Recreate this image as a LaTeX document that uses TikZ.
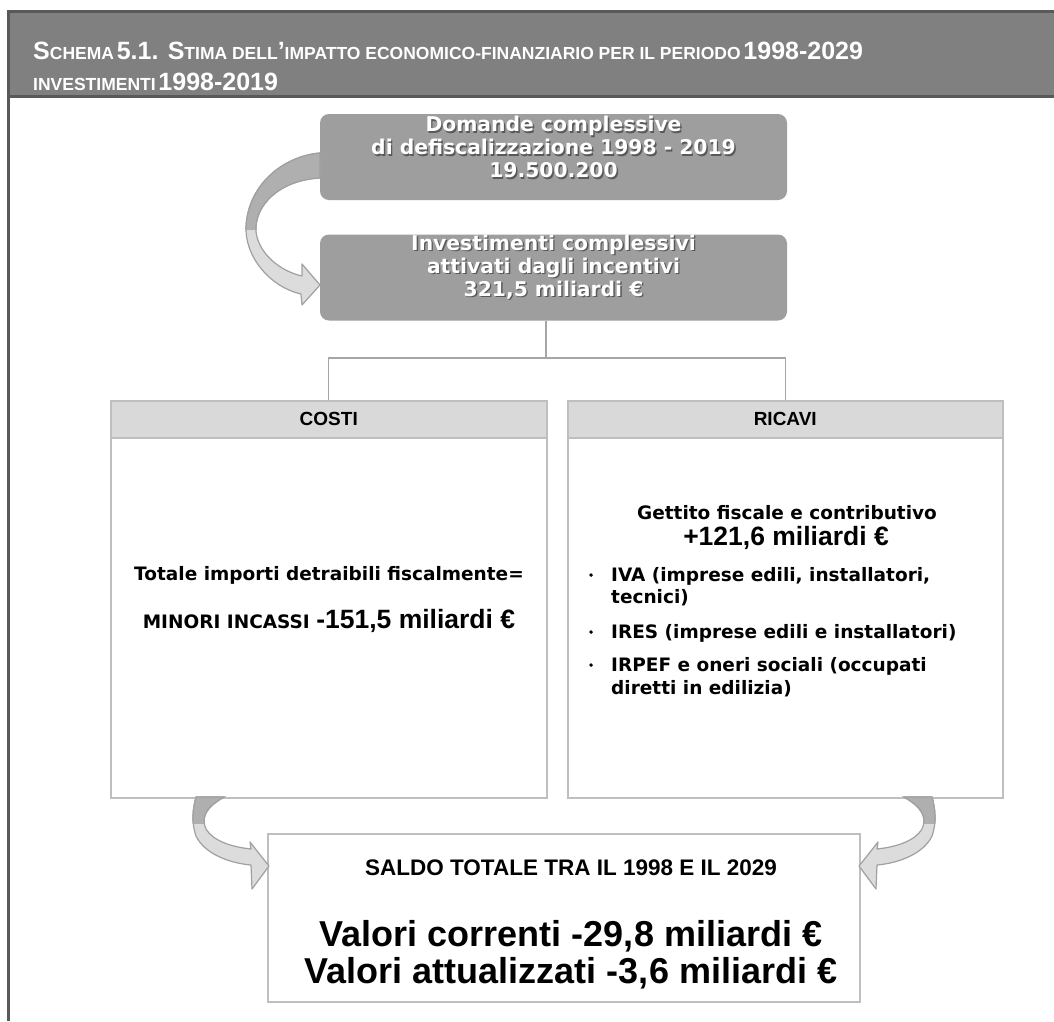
\documentclass[tikz,border=0pt]{standalone}
\usepackage{fontspec}
\setmainfont{Liberation Sans}
\newfontfamily\vfont{DejaVu Sans}
\newfontfamily\afont{Liberation Sans}
\usetikzlibrary{calc}
\definecolor{hdr}{HTML}{808080}
\definecolor{hdrline}{HTML}{595959}
\definecolor{boxg}{HTML}{9E9E9E}
\definecolor{band}{HTML}{D9D9D9}
\definecolor{edge}{HTML}{BFBFBF}
\definecolor{conn}{HTML}{A6A6A6}
\definecolor{arrl}{HTML}{DCDCDC}
\definecolor{arrd}{HTML}{AFAFAF}
\definecolor{arre}{HTML}{A0A0A0}
\newcommand\BG[1]{{\fontsize{25}{25}\selectfont #1}}
\newcommand\SM[1]{{\fontsize{17.5}{17.5}\selectfont #1}}
\newcommand\shd[1]{\makebox[0pt][l]{\hspace{1.4pt}\raisebox{-1.4pt}{\color{black!65}#1}}#1}
\tikzset{
  gbox/.style={fill=boxg, rounded corners=9pt, minimum width=467pt, minimum height=86pt, inner sep=0pt},
  gtext/.style={text=white, font={\vfont\bfseries\fontsize{20.3}{23}\selectfont}, align=center, inner sep=0pt},
  panel/.style={draw=edge, line width=1.5pt, fill=white, inner sep=0pt},
  bandst/.style={draw=edge, line width=1.5pt, fill=band, inner sep=0pt, minimum height=37pt},
  lbl/.style={font={\afont\bfseries\fontsize{19}{19}\selectfont}, inner sep=0pt},
  vt/.style={font={\vfont\bfseries\fontsize{18.5}{22}\selectfont}, inner sep=0pt},
  artext/.style={font={\afont\bfseries\fontsize{26.5}{26.5}\selectfont}, inner sep=0pt},
  conn/.style={draw=conn, line width=1.3pt},
  arrowfill/.style={fill=arrl, draw=arre, line width=1.2pt, line join=round},
  dot/.style={circle, fill=black, inner sep=1.4pt},
  hdtext/.style={anchor=base west, text=white, font={\afont\bfseries}, inner sep=0pt},
}
\begin{document}
\begin{tikzpicture}[x=1pt,y=-1pt]
\useasboundingbox (0,0) rectangle (1054,1021);
\fill[white] (0,0) rectangle (1054,1021);
% header
\fill[hdr] (8,10) rectangle (1054,98);
\draw[hdrline, line width=3pt] (8,11.5) -- (1054,11.5);
\draw[hdrline, line width=3pt] (8,96.5) -- (1054,96.5);
\draw[hdrline, line width=3pt] (8,10) -- (8,1021);
\node[hdtext] (t1) at (33,59)
  {\BG{S}\SM{CHEMA} \BG{5.1. S}\SM{TIMA DELL}\BG{’}\SM{IMPATTO ECONOMICO-FINANZIARIO PER IL PERIODO} \BG{1998-2029}};
\node[hdtext] (t2) at (33,90)
  {\SM{INVESTIMENTI} \BG{1998-2019}};
% top boxes
\node[gbox] (b1) at (553.5,157) {};
\node[gtext] (b1t) at (553.5,148) {\shd{Domande complessive}\\\shd{di defiscalizzazione 1998 - 2019}\\\shd{19.500.200}};
\node[gbox] (b2) at (553.5,277.5) {};
\node[gtext] (b2t) at (553.5,268) {\shd{Investimenti complessivi}\\\shd{attivati dagli incentivi}\\\shd{321,5 miliardi €}};
% top curved arrow
\path[arrowfill] (320,153) .. controls (284,156) and (248,184) .. (246,227)
  .. controls (245,257) and (270,287) .. (301,294) -- (302,305) -- (320,285) -- (302,264) -- (302,276)
  .. controls (280,271) and (259,254) .. (256,232) .. controls (254,205) and (280,180) .. (320,178) -- cycle;
\begin{scope}
\clip (0,0) rectangle (1054,229);
\path[fill=arrd, draw=arre, line width=1.2pt] (320,153) .. controls (284,156) and (248,184) .. (246,227)
  .. controls (245,257) and (270,287) .. (301,294) -- (302,305) -- (320,285) -- (302,264) -- (302,276)
  .. controls (280,271) and (259,254) .. (256,232) .. controls (254,205) and (280,180) .. (320,178) -- cycle;
\end{scope}
% panels
\node[panel, minimum width=436pt, minimum height=397pt, anchor=north west] (costi) at (110,400) {};
\node[bandst, minimum width=436pt, anchor=north west] (costiH) at (110,400) {};
\node[lbl] (costiL) at (costiH.center) {COSTI};
\node[panel, minimum width=435pt, minimum height=397pt, anchor=north west] (ricavi) at (567,400) {};
\node[bandst, minimum width=435pt, anchor=north west] (ricaviH) at (567,400) {};
\node[lbl] (ricaviL) at (ricaviH.center) {RICAVI};
% connectors
\coordinate (j) at (546,358);
\draw[conn] (b2.south -| j) -- (j);
\draw[conn] (costiH.north) |- (j) -| (ricaviH.north);
% costi text
\node[vt] (tot) at (329,575) {Totale importi detraibili fiscalmente=};
\node[vt, anchor=base] (minori) at (329,628) {MINORI INCASSI {\afont\fontsize{26.5}{26.5}\selectfont -151,5 miliardi €}};
% ricavi text
\node[vt] (get) at (787,513) {Gettito fiscale e contributivo};
\node[artext] (gv) at (786,538) {+121,6 miliardi €};
\node[dot] (d1) at (591,575) {};
\node[dot] (d2) at (591,632) {};
\node[dot] (d3) at (591,665) {};
\node[vt, anchor=base west] (iva1) at (611,581) {IVA (imprese edili, installatori,};
\node[vt, anchor=base west] (iva2) at (611,603) {tecnici)};
\node[vt, anchor=base west] (ires) at (611,638) {IRES (imprese edili e installatori)};
\node[vt, anchor=base west] (irpef1) at (611,671) {IRPEF e oneri sociali (occupati};
\node[vt, anchor=base west] (irpef2) at (611,694) {diretti in edilizia)};
% saldo
\node[panel, minimum width=592pt, minimum height=168pt, anchor=north west] (saldo) at (267,833) {};
\node[font={\afont\bfseries\fontsize{22.5}{22.5}\selectfont}, inner sep=0pt] (s1) at (571,868) {SALDO TOTALE TRA IL 1998 E IL 2029};
\node[font={\afont\bfseries\fontsize{36}{36}\selectfont}, inner sep=0pt] (s2) at (571,936) {Valori correnti -29,8 miliardi €};
\node[font={\afont\bfseries\fontsize{36}{36}\selectfont}, inner sep=0pt] (s3) at (571,973) {Valori attualizzati -3,6 miliardi €};
% bottom curved arrows
\foreach \sx/\sc in {0/1,1128/-1}{
\begin{scope}[shift={(\sx,0)}, xscale=\sc]
\path[arrowfill] (224,797) .. controls (205,808) and (201,818) .. (206,829)
  .. controls (213,841) and (232,847) .. (251,849) -- (250,842) -- (269,866) -- (252,889) -- (251,865)
  .. controls (228,863) and (204,853) .. (196,836) .. controls (191,822) and (193,808) .. (196,797) -- cycle;
\begin{scope}
\clip (0,790) rectangle (1054,823);
\path[fill=arrd, draw=arre, line width=1.2pt] (224,797) .. controls (205,808) and (201,818) .. (206,829)
  .. controls (213,841) and (232,847) .. (251,849) -- (250,842) -- (269,866) -- (252,889) -- (251,865)
  .. controls (228,863) and (204,853) .. (196,836) .. controls (191,822) and (193,808) .. (196,797) -- cycle;
\end{scope}
\end{scope}}
\end{tikzpicture}
\end{document}
